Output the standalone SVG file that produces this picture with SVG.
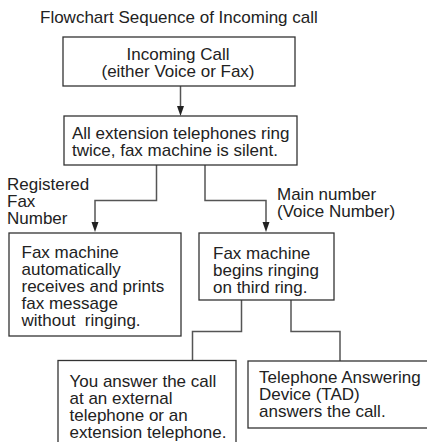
<svg xmlns="http://www.w3.org/2000/svg" width="427" height="442" viewBox="0 0 427 442">
<defs>
<style>
text{font-family:"Liberation Sans",Arial,sans-serif;font-size:17px;fill:#222;white-space:pre}
.box{fill:#fff;stroke:#333;stroke-width:1.3}
.conn{fill:none;stroke:#555;stroke-width:1.5}
.head{fill:#222}
</style>
</defs>
<rect width="427" height="442" fill="#fff"/>
<text x="40" y="23">Flowchart Sequence of Incoming call</text>
<g id="connectors">
<path class="conn" d="M180.5,86 V106"/>
<path class="head" d="M177,106 L184,106 L180.5,116 Z"/>
<path class="conn" d="M156.5,165 V200.5 H95 V222"/>
<path class="head" d="M91.5,222 L98.5,222 L95,232 Z"/>
<path class="conn" d="M205,165 V200.5 H266 V222"/>
<path class="head" d="M262.5,222 L269.5,222 L266,232 Z"/>
<path class="conn" d="M241.5,300 V331.5 H192.5 V360.5"/>
<path class="conn" d="M291,300 V331.5 H340 V361"/>
</g>
<g id="n-incoming">
<rect class="box" x="63" y="37" width="232" height="49"/>
<text x="178" y="59.5" text-anchor="middle">Incoming Call</text>
<text x="178" y="76.5" text-anchor="middle">(either Voice or Fax)</text>
</g>
<g id="n-ring">
<rect class="box" x="64" y="116" width="233" height="49"/>
<text x="72" y="138.5">All extension telephones ring</text>
<text x="72" y="155.5">twice, fax machine is silent.</text>
</g>
<g id="l-registered">
<text x="7" y="190">Registered</text>
<text x="7" y="207">Fax</text>
<text x="7" y="224">Number</text>
</g>
<g id="l-main">
<text x="277" y="200">Main number</text>
<text x="277" y="217">(Voice Number)</text>
</g>
<g id="n-fax-auto">
<rect class="box" x="9" y="233" width="172" height="103"/>
<text x="21.5" y="258">Fax machine</text>
<text x="21.5" y="275">automatically</text>
<text x="21.5" y="292">receives and prints</text>
<text x="21.5" y="309">fax message</text>
<text x="21.5" y="326">without  ringing.</text>
</g>
<g id="n-fax-ring">
<rect class="box" x="199" y="233" width="135" height="67"/>
<text x="213" y="258.5">Fax machine</text>
<text x="213" y="275.5">begins ringing</text>
<text x="213" y="292.5">on third ring.</text>
</g>
<g id="n-answer">
<rect class="box" x="58" y="360.5" width="178" height="95"/>
<text x="69.5" y="387">You answer the call</text>
<text x="69.5" y="404">at an external</text>
<text x="69.5" y="421">telephone or an</text>
<text x="69.5" y="438">extension telephone.</text>
</g>
<g id="n-tad">
<rect class="box" x="248" y="361" width="195" height="67"/>
<text x="259" y="383">Telephone Answering</text>
<text x="259" y="400">Device (TAD)</text>
<text x="259" y="417">answers the call.</text>
</g>
</svg>
